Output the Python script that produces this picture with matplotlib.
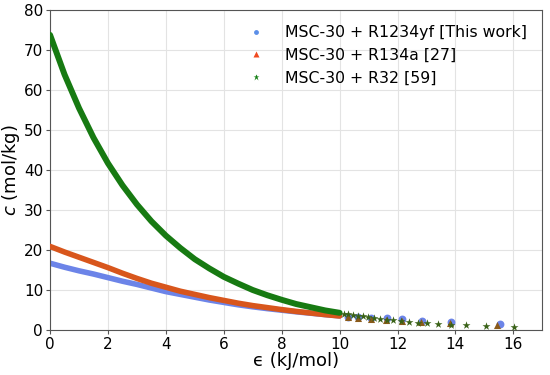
import matplotlib
matplotlib.use("Agg")
import matplotlib.pyplot as plt
from matplotlib.lines import Line2D

# dense part of each characteristic curve
eps_dense = [0, 0.5, 1, 1.5, 2, 2.5, 3, 3.5, 4, 4.5, 5, 5.5, 6, 6.5, 7, 7.5, 8, 8.5, 9, 9.5, 10]
c_r1234yf = [16.7, 15.7, 14.8, 14.0, 13.1, 12.2, 11.4, 10.5, 9.6, 8.9, 8.2, 7.5, 6.9, 6.3, 5.8, 5.35, 4.95, 4.55, 4.2, 3.85, 3.55]
c_r134a = [20.9, 19.5, 18.2, 16.9, 15.6, 14.2, 12.9, 11.7, 10.7, 9.7, 8.9, 8.1, 7.4, 6.7, 6.1, 5.6, 5.1, 4.65, 4.25, 3.85, 3.5]
c_r32 = [73.8, 63.9, 55.5, 48.1, 41.7, 36.2, 31.4, 27.2, 23.6, 20.5, 17.7, 15.4, 13.3, 11.6, 10.0, 8.7, 7.55, 6.5, 5.7, 4.9, 4.3]

# sparse points at high adsorption potential
eps_tail_yf = [10.3, 10.65, 11.1, 11.63, 12.15, 12.85, 13.83, 15.53]
c_tail_yf = [3.35, 3.15, 2.95, 2.9, 2.7, 2.35, 1.9, 1.5]
eps_tail_134a = [10.3, 10.65, 11.1, 11.6, 12.15, 12.8, 13.8, 15.45]
c_tail_134a = [3.3, 3.05, 2.8, 2.6, 2.35, 2.05, 1.65, 1.25]
eps_tail_32 = [10.15, 10.3, 10.46, 10.62, 10.8, 10.98, 11.18, 11.4, 11.62, 11.86, 12.12, 12.41,
               12.70, 13.02, 13.39, 13.83, 14.37, 15.06, 16.03]
c_tail_32 = [4.1, 3.9, 3.75, 3.55, 3.4, 3.2, 3.0, 2.8, 2.6, 2.4, 2.2, 2.0,
             1.83, 1.67, 1.5, 1.3, 1.17, 1.0, 0.83]

labels = ["MSC-30 + R1234yf [This work]", "MSC-30 + R134a [27]", "MSC-30 + R32 [59]"]
col_yf = "#6c84e8"
col_134a = "#d8561c"
col_32 = "#177a12"

fig = plt.figure(figsize=(5.5, 3.75), dpi=100)
ax = fig.add_axes([0.091, 0.12, 0.895, 0.853])

ax.plot(eps_dense, c_r1234yf, color=col_yf, lw=4, solid_capstyle="round", zorder=2)
ax.scatter(eps_tail_yf, c_tail_yf, s=32, color=col_yf, marker="o", lw=0, zorder=2)
ax.plot(eps_dense, c_r134a, color=col_134a, lw=4, solid_capstyle="round", zorder=3)
ax.scatter(eps_tail_134a, c_tail_134a, s=26, color="#8a5a1a", marker="^", lw=0, zorder=3)
ax.plot(eps_dense, c_r32, color=col_32, lw=4.3, solid_capstyle="round", zorder=4)
ax.scatter(eps_tail_32, c_tail_32, s=36, color="#3a6218", marker="*", lw=0, zorder=4)

ax.set_xlim(0, 17)
ax.set_ylim(0, 80)
ax.set_xticks(range(0, 17, 2))
ax.set_yticks(range(0, 81, 10))
ax.grid(True, color="#e3e3e3", lw=0.8)
ax.set_axisbelow(True)
for s in ax.spines.values():
    s.set_color("#555555")
ax.tick_params(labelsize=11, length=3, color="#555555", pad=2)
ax.set_xlabel("\u03f5 (kJ/mol)", fontsize=13, labelpad=0)
ax.set_ylabel(r"$c$ (mol/kg)", fontsize=13, labelpad=1)

handles = [
    Line2D([], [], ls="", marker="o", ms=3.5, mec="none", color="#5b8fe8"),
    Line2D([], [], ls="", marker="^", ms=4, mec="none", color="#f04a20"),
    Line2D([], [], ls="", marker="*", ms=4.5, mec="none", color="#158015"),
]
ax.legend(handles, labels, loc="upper right", frameon=False, fontsize=11.3,
          handletextpad=0.9, labelspacing=0.5, borderaxespad=0.55)

fig.savefig("out.png", dpi=100)
